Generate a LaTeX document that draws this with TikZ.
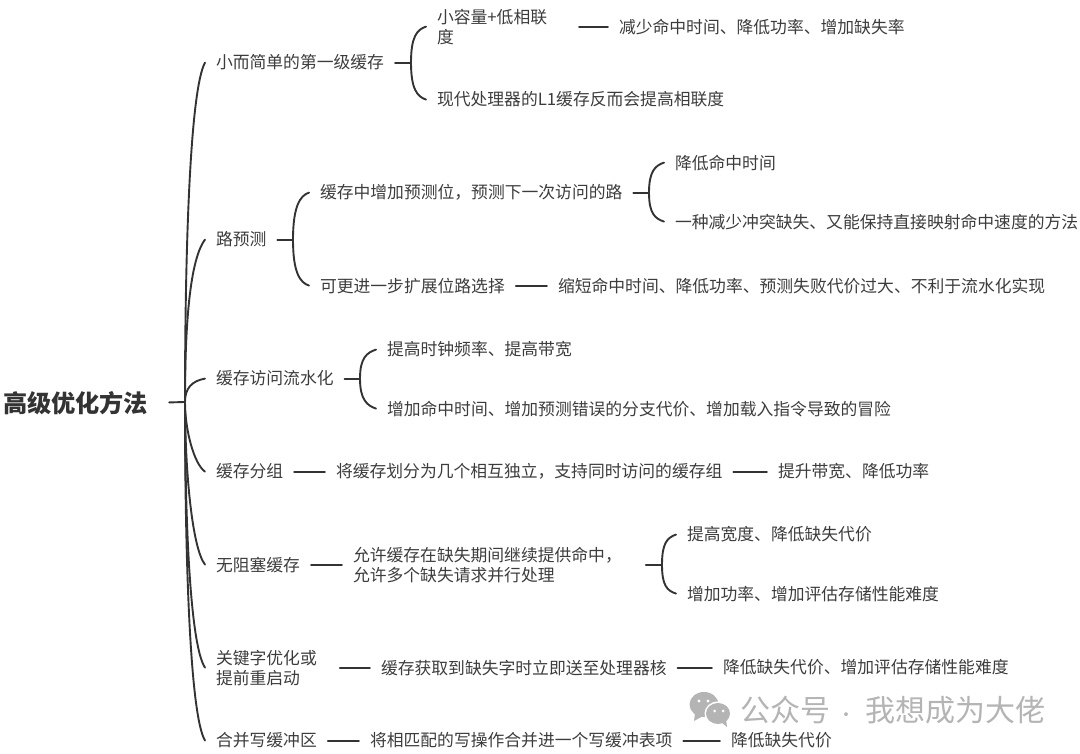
\documentclass[tikz,border=0pt]{standalone}
\usepackage{fontspec}
\setmainfont{Noto Sans CJK SC}
\definecolor{txt}{HTML}{3C3C3C}
\definecolor{ln}{HTML}{333333}
\definecolor{wm}{HTML}{B4B4B4}
\tikzset{
  item/.style={anchor=west,inner sep=0pt,outer sep=0pt,align=left,text=txt,yshift=-0.6pt,font=\fontsize{16.8}{20}\selectfont},
  rootitem/.style={anchor=west,inner sep=0pt,outer sep=0pt,text=ln,font=\fontsize{24.2}{28}\selectfont\bfseries},
  wire/.style={draw=ln,line width=1.9pt,line cap=round},
  stub/.style={wire,shorten <=11pt,shorten >=11pt}
}
\newcommand{\upcurve}[3]{\draw[wire] (#1) .. controls +(0,-#3) and +(-9,3) .. ([xshift=-11pt]#2.west);}
\newcommand{\downcurve}[3]{\draw[wire] (#1) .. controls +(0,#3) and +(-9,-3) .. ([xshift=-11pt]#2.west);}
\begin{document}
\begin{tikzpicture}[x=1pt,y=-1pt]
\useasboundingbox (0,0) rectangle (1080,754);
% root
\node[rootitem] (root) at (3,403) {高级优化方法};
\coordinate (hub) at (185,402);
% level 1
\node[item] (a) at (216,62) {小而简单的第一级缓存};
\node[item] (b) at (216,239) {路预测};
\node[item] (c) at (216,378) {缓存访问流水化};
\node[item] (d) at (216,471) {缓存分组};
\node[item] (e) at (216,564) {无阻塞缓存};
\node[item] (f) at (216,667) {关键字优化或\\提前重启动};
\node[item] (g) at (216,740) {合并写缓冲区};
% a
\coordinate (ah) at (411,62.6);
\node[item] (a1) at (437,26) {小容量+低相联\\度};
\node[item] (a2) at (437,99) {现代处理器的L1缓存反而会提高相联度};
\node[item] (a3) at (619,26) {减少命中时间、降低功率、增加缺失率};
% b
\coordinate (bh) at (293,239.6);
\node[item] (b1) at (320,192) {缓存中增加预测位，预测下一次访问的路};
\node[item] (b2) at (320,285) {可更进一步扩展位路选择};
\node[item] (b3) at (558,285) {缩短命中时间、降低功率、预测失败代价过大、不利于流水化实现};
\coordinate (b1h) at (649,192.6);
\node[item] (b4) at (675,162) {降低命中时间};
\node[item] (b5) at (675,221) {一种减少冲突缺失、又能保持直接映射命中速度的方法};
% c
\coordinate (ch) at (360,378.6);
\node[item] (c1) at (387,349) {提高时钟频率、提高带宽};
\node[item] (c2) at (387,408) {增加命中时间、增加预测错误的分支代价、增加载入指令导致的冒险};
% d
\node[item] (d1) at (336,471) {将缓存划分为几个相互独立，支持同时访问的缓存组};
\node[item] (d2) at (778,471) {提升带宽、降低功率};
% e
\node[item] (e1) at (353,564) {允许缓存在缺失期间继续提供命中，\\允许多个缺失请求并行处理};
\coordinate (e1h) at (662,564.6);
\node[item] (e2) at (687,534) {提高宽度、降低缺失代价};
\node[item] (e3) at (687,593) {增加功率、增加评估存储性能难度};
% f
\node[item] (f1) at (381,667) {缓存获取到缺失字时立即送至处理器核};
\node[item] (f2) at (723,667) {降低缺失代价、增加评估存储性能难度};
% g
\node[item] (g1) at (370,740) {将相匹配的写操作合并进一个写缓冲表项};
\node[item] (g2) at (731,740) {降低缺失代价};
% root stub and trunk
\draw[wire,shorten <=21pt] (root.east) -- (hub);
\draw[wire] (hub) .. controls (185,250) and (190,90) .. ([xshift=-11pt]a.west);
\draw[wire] (hub) .. controls (185,340) and (188,262) .. ([xshift=-11pt]b.west);
\draw[wire] (hub) .. controls (185,388) and (192,381) .. ([xshift=-11pt]c.west);
\draw[wire] (hub) .. controls (185,430) and (194,464) .. ([xshift=-11pt]d.west);
\draw[wire] (hub) .. controls (185,470) and (192,548) .. ([xshift=-11pt]e.west);
\draw[wire] (hub) .. controls (185,520) and (190,645) .. ([xshift=-11pt]f.west);
\draw[wire] (hub) .. controls (185,560) and (190,715) .. ([xshift=-11pt]g.west);
% level 2 connectors
\draw[wire,shorten <=11pt] (a.east) -- (ah);
\upcurve{ah}{a1}{26}
\downcurve{ah}{a2}{26}
\draw[wire,shorten <=32pt,shorten >=11pt] (a1.east) -- (a3.west);
\draw[wire,shorten <=11pt] (b.east) -- (bh);
\upcurve{bh}{b1}{33}
\downcurve{bh}{b2}{33}
\draw[stub] (b2.east) -- (b3.west);
\draw[wire,shorten <=11pt] (b1.east) -- (b1h);
\upcurve{b1h}{b4}{21}
\downcurve{b1h}{b5}{21}
\draw[wire,shorten <=11pt] (c.east) -- (ch);
\upcurve{ch}{c1}{21}
\downcurve{ch}{c2}{21}
\draw[stub] (d.east) -- (d1.west);
\draw[stub] (d1.east) -- (d2.west);
\draw[stub] (e.east) -- (e1.west);
\draw[wire,shorten <=24pt] (e1.east) -- (e1h);
\upcurve{e1h}{e2}{21}
\downcurve{e1h}{e3}{21}
\draw[wire,shorten <=23pt,shorten >=11pt] (f.east) -- (f1.west);
\draw[stub] (f1.east) -- (f2.west);
\draw[stub] (g.east) -- (g1.west);
\draw[stub] (g1.east) -- (g2.west);
% watermark
\fill[wm] (704,704.5) ellipse[x radius=14.5,y radius=12.5];
\fill[wm] (695,713) -- (694,721) -- (703,716) -- cycle;
\fill[white] (718,713.5) ellipse[x radius=13.5,y radius=12];
\fill[wm] (718,713.5) ellipse[x radius=12,y radius=10.5];
\fill[wm] (721,722) -- (727,727) -- (726,719) -- cycle;
\fill[white] (699,701) circle[radius=1.7] (708,701) circle[radius=1.7];
\fill[white] (714.5,711) circle[radius=1.5] (723,711) circle[radius=1.5];
\node[anchor=west,inner sep=0pt,text=wm,font=\fontsize{30}{34}\selectfont] (mark) at (740,710) {公众号\hspace{7pt}{\fontsize{18}{34}\selectfont ·}\hspace{10pt}我想成为大佬};
\end{tikzpicture}
\end{document}
